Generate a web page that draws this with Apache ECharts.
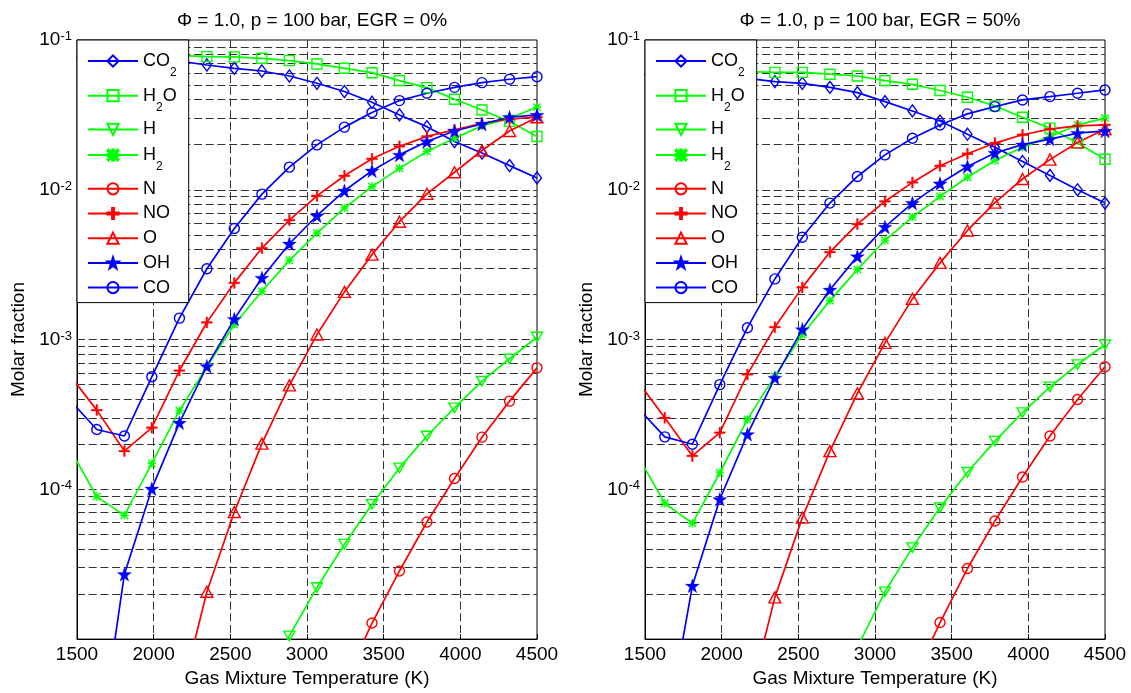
<!DOCTYPE html>
<html><head><meta charset="utf-8">
<script src="https://cdn.jsdelivr.net/npm/echarts@6/dist/echarts.min.js"></script>
<style>html,body{margin:0;padding:0;background:#fff}#c{width:1131px;height:693px}</style>
</head><body><div id="c"></div>
<script>
// ---------- data ----------
const temps = [1450, 1629, 1809, 1988, 2168, 2347, 2526, 2706, 2885, 3065, 3244, 3424, 3603, 3782, 3962, 4141, 4321, 4500];
const species = ['CO2', 'H2O', 'H', 'H2', 'N', 'NO', 'O', 'OH', 'CO'];
const xTicks = [1500, 2000, 2500, 3000, 3500, 4000, 4500];
const titles = ['Φ = 1.0, p = 100 bar, EGR = 0%', 'Φ = 1.0, p = 100 bar, EGR = 50%'];

// EGR = 0 %
const egr0_CO2 = [0.0765, 0.0758, 0.075, 0.074, 0.0722, 0.0681, 0.0647, 0.0621, 0.0575, 0.0514, 0.0453, 0.0384, 0.0316, 0.0264, 0.0210, 0.0176, 0.0145, 0.0120];
const egr0_H2O = [0.0795, 0.0795, 0.0794, 0.0792, 0.0789, 0.0774, 0.0772, 0.0755, 0.0728, 0.0692, 0.0647, 0.0605, 0.0536, 0.0481, 0.0402, 0.0341, 0.0286, 0.0227];
const egr0_H   = [null, null, null, null, null, null, null, 4.2e-6, 1.05e-5, 2.21e-5, 4.3e-5, 7.94e-5, 1.39e-4, 2.27e-4, 3.5e-4, 5.28e-4, 7.44e-4, 1.04e-3];
const egr0_H2  = [1.89e-4, 8.94e-5, 6.7e-5, 1.49e-4, 3.35e-4, 6.6e-4, 1.26e-3, 2.1e-3, 3.38e-3, 5.14e-3, 7.55e-3, 0.0105, 0.0139, 0.018, 0.0221, 0.0267, 0.030, 0.0356];
const egr0_N   = [null, null, null, null, null, null, null, null, null, null, 5.1e-6, 1.28e-5, 2.85e-5, 6.05e-5, 1.18e-4, 2.23e-4, 3.88e-4, 6.47e-4];
const egr0_NO  = [5.83e-4, 3.38e-4, 1.8e-4, 2.58e-4, 6.21e-4, 1.30e-3, 2.39e-3, 4.08e-3, 6.28e-3, 9.1e-3, 0.0124, 0.0161, 0.0195, 0.0227, 0.0251, 0.0278, 0.0296, 0.0306];
const egr0_O   = [null, null, null, null, 3.8e-6, 2.07e-5, 7.06e-5, 2.02e-4, 4.94e-4, 1.08e-3, 2.08e-3, 3.69e-3, 6.12e-3, 9.4e-3, 0.0131, 0.0183, 0.0247, 0.0305];
const egr0_OH  = [null, 1.45e-6, 2.71e-5, 1.01e-4, 2.78e-4, 6.64e-4, 1.37e-3, 2.58e-3, 4.36e-3, 6.71e-3, 9.85e-3, 0.0134, 0.0171, 0.0210, 0.0247, 0.0275, 0.0305, 0.0316];
const egr0_CO  = [3.98e-4, 2.51e-4, 2.27e-4, 5.64e-4, 1.39e-3, 2.97e-3, 5.52e-3, 9.35e-3, 0.01416, 0.01995, 0.0262, 0.0328, 0.0394, 0.0441, 0.0483, 0.0519, 0.0547, 0.0569];

// EGR = 50 %
const egr50_CO2 = [0.059, 0.0585, 0.058, 0.057, 0.0555, 0.0528, 0.0514, 0.0483, 0.0445, 0.0388, 0.0336, 0.0288, 0.0235, 0.0192, 0.01545, 0.01247, 0.0100, 0.00815];
const egr50_H2O = [0.0625, 0.0623, 0.062, 0.0618, 0.0615, 0.0608, 0.0608, 0.0591, 0.0575, 0.0536, 0.0506, 0.046, 0.0415, 0.0363, 0.0305, 0.0258, 0.0205, 0.016];
const egr50_H   = [null, null, null, null, null, null, null, null, 8.8e-6, 2.07e-5, 4.08e-5, 7.55e-5, 1.3e-4, 2.1e-4, 3.25e-4, 4.83e-4, 6.81e-4, 9.26e-4];
const egr50_H2  = [1.69e-4, 8.07e-5, 5.93e-5, 1.29e-4, 2.93e-4, 5.7e-4, 1.08e-3, 1.82e-3, 2.93e-3, 4.6e-3, 6.57e-3, 9.03e-3, 0.01213, 0.0157, 0.0192, 0.0227, 0.0271, 0.0301];
const egr50_N   = [null, null, null, null, null, null, null, null, null, null, 5.2e-6, 1.29e-5, 2.96e-5, 6.15e-5, 1.21e-4, 2.27e-4, 3.98e-4, 6.58e-4];
const egr50_NO  = [5.31e-4, 3.0e-4, 1.67e-4, 2.39e-4, 5.85e-4, 1.21e-3, 2.23e-3, 3.84e-3, 5.9e-3, 8.36e-3, 0.0112, 0.01445, 0.0174, 0.0205, 0.0233, 0.0254, 0.0267, 0.0271];
const egr50_O   = [null, null, null, null, 3.5e-6, 1.9e-5, 6.47e-5, 1.8e-4, 4.37e-4, 9.5e-4, 1.87e-3, 3.25e-3, 5.35e-3, 8.2e-3, 0.0118, 0.0159, 0.0207, 0.0254];
const egr50_OH  = [null, 2.1e-6, 2.27e-5, 8.58e-5, 2.33e-4, 5.55e-4, 1.17e-3, 2.15e-3, 3.59e-3, 5.65e-3, 8.15e-3, 0.011, 0.0143, 0.0176, 0.020, 0.0218, 0.0239, 0.0247];
const egr50_CO  = [3.53e-4, 2.24e-4, 2.0e-4, 5.0e-4, 1.2e-3, 2.54e-3, 4.82e-3, 8.15e-3, 0.01227, 0.0171, 0.0221, 0.0271, 0.0321, 0.0359, 0.0398, 0.0419, 0.0441, 0.0464];

const panels = [
  {CO2: egr0_CO2, H2O: egr0_H2O, H: egr0_H, H2: egr0_H2, N: egr0_N, NO: egr0_NO, O: egr0_O, OH: egr0_OH, CO: egr0_CO},
  {CO2: egr50_CO2, H2O: egr50_H2O, H: egr50_H, H2: egr50_H2, N: egr50_N, NO: egr50_NO, O: egr50_O, OH: egr50_OH, CO: egr50_CO}
];

// ---------- styles ----------
const FONT = 'Liberation Sans, Arial, sans-serif';
const BLUE = '#0000ff', GREEN = '#00ff00', RED = '#ff0000';
function starPath() {
  let d = '';
  for (let i = 0; i < 10; i++) {
    const a = -Math.PI / 2 + i * Math.PI / 5;
    const r = i % 2 ? 3.9 : 10;
    d += (i ? 'L' : 'M') + (10 + r * Math.cos(a)).toFixed(2) + ',' + (10 + r * Math.sin(a)).toFixed(2);
  }
  return 'path://' + d + 'Z';
}
const PLUS = 'path://M4.2,0h1.6v4.2h4.2v1.6h-4.2v4.2h-1.6v-4.2h-4.2v-1.6h4.2z';
const ASTER = 'path://M0,1.1L1.1,0L10,8.9L8.9,10Z M8.9,0L10,1.1L1.1,10L0,8.9Z M4.3,0h1.4v10h-1.4z M0,4.3h10v1.4h-10z';
const DOWNTRI = 'path://M0,0L10,0L5,8.7Z';
const sty = {
  CO2: {c: BLUE,  sym: 'diamond', size: [9, 12], hollow: true},
  H2O: {c: GREEN, sym: 'rect', size: 10, hollow: true},
  H:   {c: GREEN, sym: DOWNTRI, size: [11, 9.5], hollow: true},
  H2:  {c: GREEN, sym: ASTER, size: 8, hollow: false},
  N:   {c: RED,   sym: 'circle', size: 10, hollow: true},
  NO:  {c: RED,   sym: PLUS, size: 11, hollow: false},
  O:   {c: RED,   sym: 'triangle', size: [12, 11], hollow: true},
  OH:  {c: BLUE,  sym: starPath(), size: 14, hollow: false},
  CO:  {c: BLUE,  sym: 'circle', size: 10, hollow: true}
};
const legendText = {
  CO2: '{m|CO}{s|2}', H2O: '{m|H}{s|2}{m|O}', H: '{m|H}', H2: '{m|H}{s|2}',
  N: '{m|N}', NO: '{m|NO}', O: '{m|O}', OH: '{m|OH}', CO: '{m|CO}'
};

const gridLeft = [77, 645];
const GW = 460, GH = 600, GT = 40;
const dash = [8, 3.7];
const gridColor = '#333333';

// horizontal grid values (decade subdivisions of the log axis)
const hGridValues = [];
for (let e = -5; e <= -2; e++) for (let m = 1; m <= 9; m++) {
  const v = m * Math.pow(10, e);
  if (v > 1e-5 * 1.0001) hGridValues.push(v);
}

const option = {
  animation: false,
  backgroundColor: '#fff',
  textStyle: {fontFamily: FONT, color: '#000'},
  title: titles.map((t, i) => ({
    text: t, left: gridLeft[i] + GW / 2, textAlign: 'center', top: 6,
    textStyle: {fontFamily: FONT, fontSize: 19, fontWeight: 'normal', color: '#000'}
  })),
  grid: gridLeft.map(l => ({left: l, top: GT, width: GW, height: GH, show: true, borderColor: '#000', borderWidth: 1, containLabel: false})),
  xAxis: gridLeft.map((l, i) => ({
    type: 'value', gridIndex: i, min: 1500, max: 4500, interval: 500,
    name: 'Gas Mixture Temperature (K)', nameLocation: 'middle', nameGap: 27,
    nameTextStyle: {fontFamily: FONT, fontSize: 19, color: '#000'},
    axisLine: {show: true, onZero: false, lineStyle: {color: '#000', width: 1}},
    axisTick: {show: true, inside: true, length: 5, lineStyle: {color: '#000'}},
    axisLabel: {fontFamily: FONT, fontSize: 19, color: '#000', margin: 6, formatter: v => String(v)},
    splitLine: {show: true, showMinLine: false, showMaxLine: false, lineStyle: {type: dash, color: gridColor, width: 1}}
  })),
  yAxis: gridLeft.map((l, i) => ({
    type: 'log', logBase: 10, gridIndex: i, min: 1e-5, max: 1e-1, splitNumber: 4,
    name: 'Molar fraction', nameLocation: 'middle', nameGap: 49, nameRotate: 90,
    nameTextStyle: {fontFamily: FONT, fontSize: 19, color: '#000'},
    axisLine: {show: true, onZero: false, lineStyle: {color: '#000', width: 1}},
    axisTick: {show: true, inside: true, length: 5, lineStyle: {color: '#000'}},
    axisLabel: {
      showMinLabel: false, margin: 5,
      formatter: v => '{b|10}{s|' + Math.round(Math.log10(v)) + '}',
      rich: {
        b: {fontFamily: FONT, fontSize: 19, lineHeight: 20, verticalAlign: 'middle', color: '#000'},
        s: {fontFamily: FONT, fontSize: 13, lineHeight: 13, padding: [0, 0, 30, 0], verticalAlign: 'top', color: '#000'}
      }
    },
    splitLine: {show: false}
  })),
  legend: gridLeft.map(l => ({
    orient: 'vertical', left: l, top: GT, padding: [11, 12, 6, 10], itemGap: 6.7, z: 10,
    itemWidth: 50, itemHeight: 14, backgroundColor: '#fff', borderColor: '#000', borderWidth: 1,
    selectedMode: false, data: species,
    formatter: n => legendText[n],
    textStyle: {
      fontFamily: FONT, color: '#000',
      rich: {
        m: {fontFamily: FONT, fontSize: 18, lineHeight: 20, verticalAlign: 'middle', color: '#000'},
        s: {fontFamily: FONT, fontSize: 12, lineHeight: 12, padding: [16, 0, 0, 0], verticalAlign: 'top', color: '#000'}
      }
    }
  })),
  series: []
};

panels.forEach((p, i) => {
  // horizontal dashed grid lines on the log axis
  option.series.push({
    type: 'line', name: '__grid' + i, xAxisIndex: i, yAxisIndex: i, data: [], z: 1, silent: true,
    markLine: {
      silent: true, z: 1, symbol: ['none', 'none'], label: {show: false}, precision: 12,
      lineStyle: {type: dash, color: gridColor, width: 1},
      emphasis: {disabled: true},
      data: hGridValues.map(v => [{coord: [1500, v]}, {coord: [4500, v]}])
    }
  });
  species.forEach(sp => {
    const s = sty[sp];
    option.series.push({
      type: 'line', name: sp, xAxisIndex: i, yAxisIndex: i, z: 3,
      data: temps.map((t, k) => [t, p[sp][k]]),
      clip: true, connectNulls: false,
      symbol: s.sym, symbolSize: s.size,
      lineStyle: {color: s.c, width: 1.7},
      itemStyle: s.hollow ? {color: 'rgba(0,0,0,0)', borderColor: s.c, borderWidth: 1.4}
                          : {color: s.c, borderColor: s.c, borderWidth: 0.3},
      emphasis: {disabled: true}
    });
  });
});

const chart = echarts.init(document.getElementById('c'), null, {renderer: 'canvas'});
chart.setOption(option);
</script>
</body></html>
